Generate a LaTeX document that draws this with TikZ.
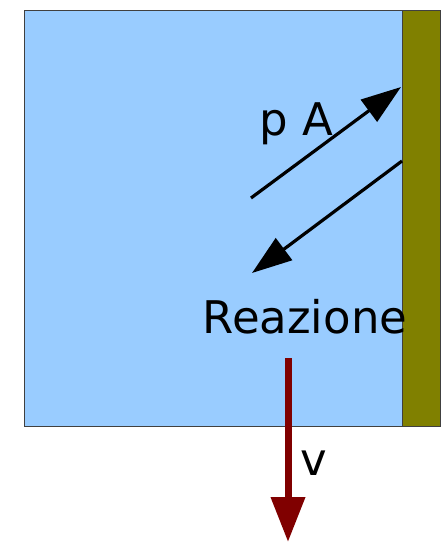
\documentclass[tikz,border=0pt]{standalone}
\usepackage{xcolor}
\usepackage{fontspec}
\setmainfont{DejaVu Sans}
\usepackage{tikz}
\usetikzlibrary{arrows, arrows.meta, positioning, calc}

\definecolor{fluidblue}{RGB}{153,204,255}
\definecolor{wallolive}{RGB}{128,128,0}
\definecolor{speedred}{RGB}{128,0,0}

\begin{document}
\begin{tikzpicture}[x=1pt, y=-1pt,
        block/.style={rectangle, draw=black!75, line width=1pt, inner sep=0pt, anchor=north west},
        force/.style={line width=3.2pt, -{Triangle[length=40pt, width=27pt]}},
        label/.style={font=\fontsize{45}{54}\selectfont, inner sep=0pt, anchor=base}]
        \useasboundingbox (0,0) rectangle (446,543);
        \node (Fluid) [block, fill=fluidblue, minimum width=378pt, minimum height=416pt] at (24,10) {};
        \node (Wall) [block, fill=wallolive, minimum width=38pt, minimum height=416pt] at (402,10) {};

        \coordinate (PushFrom) at (251,198);
        \coordinate (PushTo) at (401,87);
        \coordinate (ReacFrom) at (402,161);
        \coordinate (ReacTo) at (252,273);
        \coordinate (SpeedFrom) at (288,358);
        \coordinate (SpeedTo) at (288,542);

        \draw[force] (PushFrom) -- (PushTo);
        \draw[force] (ReacFrom) -- (ReacTo);
        \draw[line width=7pt, draw=speedred, -{Triangle[length=45pt, width=33pt, fill=speedred]}] (SpeedFrom) -- (SpeedTo);

        \node (PA) [label] at (296,135) {p A};
        \node (Reazione) [label] at (305,333) {Reazione};
        \node (V) [label] at (314,475) {v};
    \end{tikzpicture}
\end{document}
